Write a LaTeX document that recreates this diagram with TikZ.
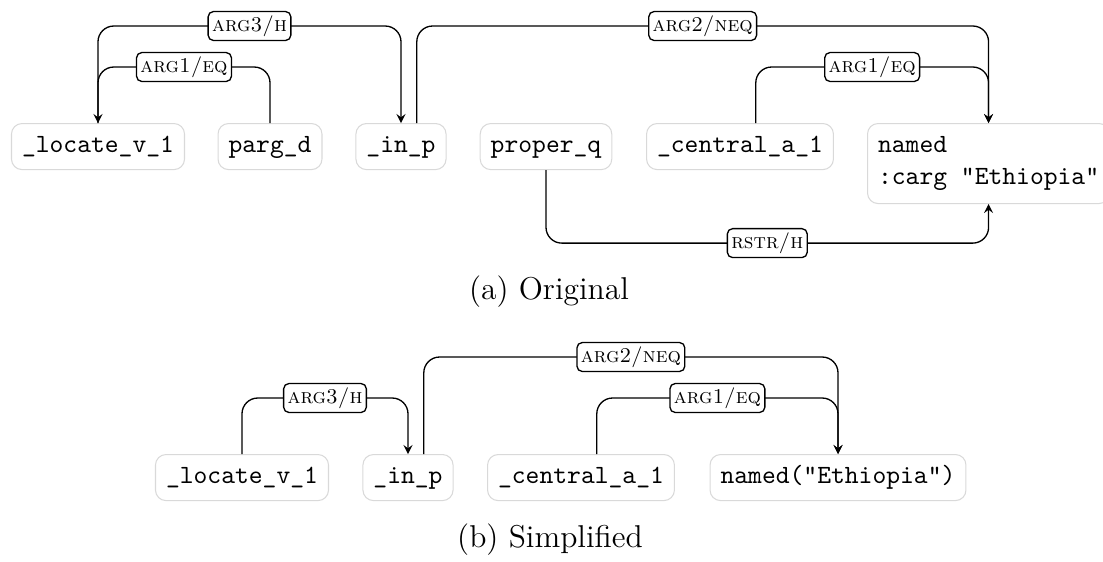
\documentclass[tikz,border=0pt]{standalone}
\usetikzlibrary{positioning}

\tikzset{
  pred/.style={draw=black!15, rounded corners=4pt, font=\ttfamily, anchor=north,
    inner xsep=4pt, inner ysep=4pt, text height=7pt, text depth=2.5pt},
  role/.style={draw, fill=white, rounded corners=2pt, inner sep=1.5pt, font=\footnotesize},
  edge/.style={rounded corners=6pt, line width=0.5pt},
  capt/.style={font=\large},
}

\begin{document}
\begin{tikzpicture}[x=0.38pt, y=-0.38pt]
  \useasboundingbox (0,0) rectangle (1103,561);
  \def\hi{-97}
  \def\lo{-56}

  % (a) original
  \node[pred] (locate) at (98,123) {\_locate\_v\_1};
  \node[pred] (parg) at (270,123) {parg\_d};
  \node[pred] (inp) at (401,123) {\_in\_p};
  \node[pred] (proper) at (546,123) {proper\_q};
  \node[pred] (central) at (740,123) {\_central\_a\_1};
  \node[draw=black!15, rounded corners=4pt, font=\ttfamily, anchor=north west,
    inner xsep=4pt, inner ysep=5pt, align=left] (named) at (867,123)
    {named\\:carg "Ethiopia"};

  \draw[edge,-stealth] (locate.north) -- ++(0,\hi) -| node[role,pos=.25] {\textsc{arg3/h}} (inp.north);
  \draw[edge,-stealth] (parg.north) -- ++(0,\lo) -| node[role,pos=.25] {\textsc{arg1/eq}} (locate.north);
  \draw[edge,-stealth] ([xshift=6pt]inp.north) -- ++(0,\hi) -| node[role,pos=.25] {\textsc{arg2/neq}} (named.north);
  \draw[edge,-stealth] ([xshift=6pt]central.north) -- ++(0,\lo) -| node[role,pos=.25] {\textsc{arg1/eq}} (named.north);
  \draw[edge,-stealth] (proper.south) -- ++(0,73) -| node[role,pos=.25] {\textsc{rstr/h}} (named.south);

  \node[capt] (capa) at (549,292) {(a) Original};

  % (b) simplified
  \node[pred] (slocate) at (242,454) {\_locate\_v\_1};
  \node[pred] (sinp) at (408,454) {\_in\_p};
  \node[pred] (scentral) at (581,454) {\_central\_a\_1};
  \node[pred] (snamed) at (838,454) {named("Ethiopia")};

  \draw[edge,-stealth] (slocate.north) -- ++(0,\lo) -| node[role,pos=.25] {\textsc{arg3/h}} (sinp.north);
  \draw[edge,-stealth] ([xshift=6pt]sinp.north) -- ++(0,\hi) -| node[role,pos=.25] {\textsc{arg2/neq}} (snamed.north);
  \draw[edge,-stealth] ([xshift=6pt]scentral.north) -- ++(0,\lo) -| node[role,pos=.25] {\textsc{arg1/eq}} (snamed.north);

  \node[capt] (capb) at (550,540) {(b) Simplified};
\end{tikzpicture}
\end{document}
